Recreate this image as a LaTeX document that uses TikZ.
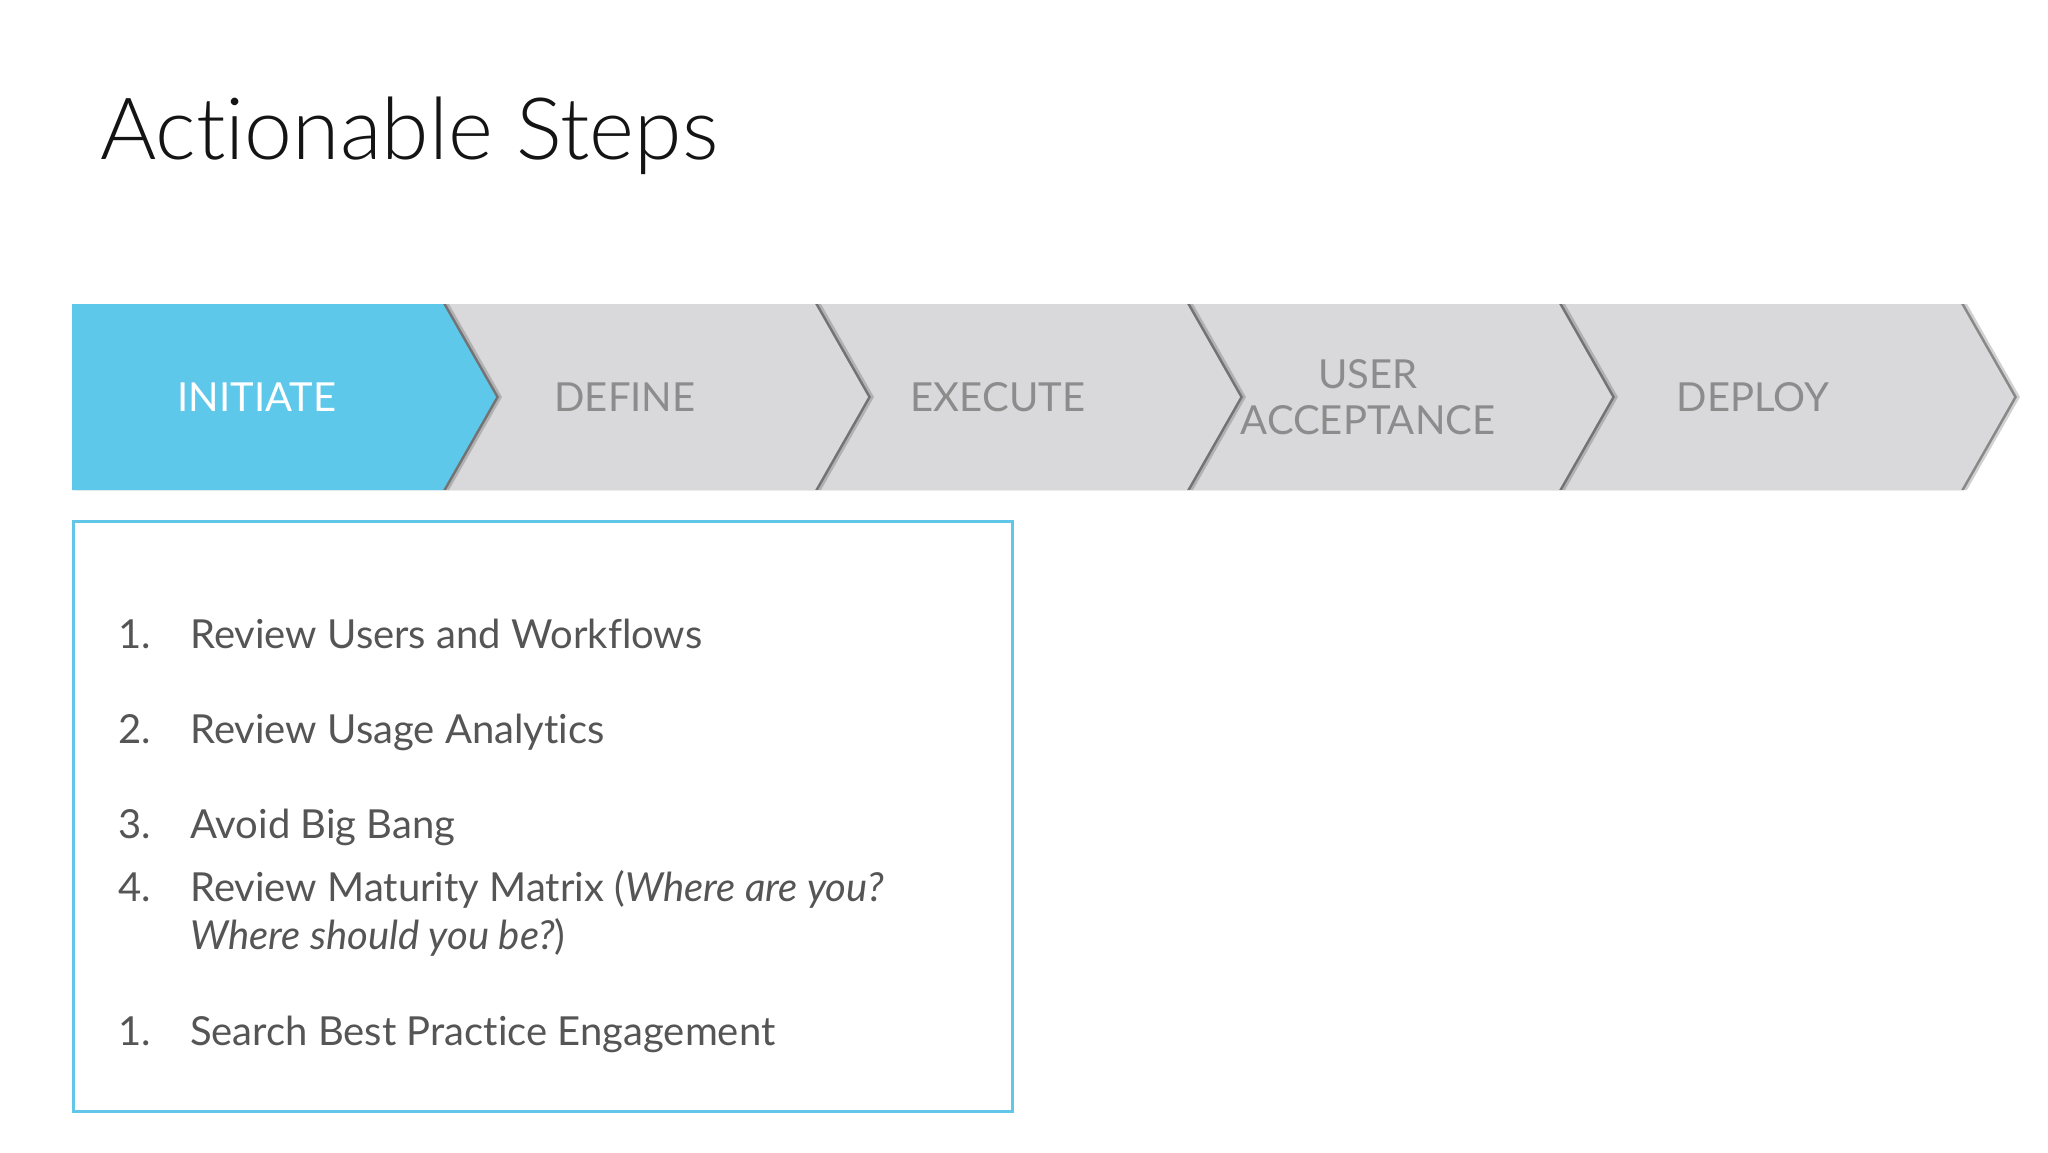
\documentclass[tikz,border=0pt]{standalone}
\usepackage{fontspec}
\setmainfont{Lato}[Ligatures={NoCommon}]
\newfontfamily\titlefont{Lato Light}[Ligatures={NoCommon}]
\usetikzlibrary{shadows}
\definecolor{stepblue}{HTML}{5EC8EB}
\definecolor{stepgrey}{HTML}{D9D9DB}
\definecolor{steptext}{HTML}{8C8C8C}
\definecolor{listtext}{HTML}{555555}
\definecolor{boxblue}{HTML}{62C6E8}
\definecolor{titletext}{HTML}{141414}
\tikzset{
  chevron/.style={fill=stepgrey,
    drop shadow={shadow xshift=6pt, shadow yshift=0pt, opacity=0.18, fill=black},
    drop shadow={shadow xshift=3pt, shadow yshift=0pt, opacity=0.35, fill=black}},
  firstchevron/.style={chevron, fill=stepblue},
  steplabel/.style={text=steptext, font=\fontsize{40}{46}\selectfont, align=center, inner sep=0pt},
  itemnum/.style={anchor=base west, inner sep=0pt, text=listtext, font=\fontsize{40}{48}\selectfont},
  itemtext/.style={itemnum}
}
\begin{document}
\begin{tikzpicture}[x=1pt,y=-1pt]
                \useasboundingbox (0,0) rectangle (2048,1152);
                \fill[white] (0,0) rectangle (2048,1152);
                \node[anchor=base west, inner sep=0pt, text=titletext, font=\titlefont\fontsize{86}{100}\selectfont] (title) at (100,159) {Actionable Steps};
                \fill[chevron] (1559,304) -- (1961,304) -- (2014,397) -- (1961,490) -- (1559,490) -- (1612,397) -- cycle;
                \fill[chevron] (1187,304) -- (1559,304) -- (1612,397) -- (1559,490) -- (1187,490) -- (1240,397) -- cycle;
                \fill[chevron] (815,304) -- (1187,304) -- (1240,397) -- (1187,490) -- (815,490) -- (868,397) -- cycle;
                \fill[chevron] (443,304) -- (815,304) -- (868,397) -- (815,490) -- (443,490) -- (496,397) -- cycle;
                \fill[firstchevron] (72,304) -- (443,304) -- (496,397) -- (443,490) -- (72,490) -- cycle;
                \node[steplabel, text=white] (initiate) at (257,397) {INITIATE};
                \node[steplabel] (define) at (625,397) {DEFINE};
                \node[steplabel] (execute) at (998,397) {EXECUTE};
                \node[steplabel] (useracc) at (1368,397) {USER\\ACCEPTANCE};
                \node[steplabel] (deploy) at (1753,397) {DEPLOY};
                \node[draw=boxblue, line width=2.5pt, anchor=north west, inner sep=0pt, minimum width=939pt, minimum height=590pt] (listbox) at (72,520) {};
                \node[itemnum] (numa) at (118,648) {1.};
                \node[itemtext] (itema) at (190,648) {Review Users and Workflows};
                \node[itemnum] (numb) at (118,743) {2.};
                \node[itemtext] (itemb) at (190,743) {Review Usage Analytics};
                \node[itemnum] (numc) at (118,838) {3.};
                \node[itemtext] (itemc) at (190,838) {Avoid Big Bang};
                \node[itemnum] (numd) at (118,901) {4.};
                \node[itemtext] (itemd) at (190,901) {Review Maturity Matrix (\textit{Where are you?}};
                \node[itemtext] (itemdd) at (190,949) {\textit{Where should you be?})};
                \node[itemnum] (nume) at (118,1045) {1.};
                \node[itemtext] (iteme) at (190,1045) {Search Best Practice Engagement};
            \end{tikzpicture}
\end{document}
